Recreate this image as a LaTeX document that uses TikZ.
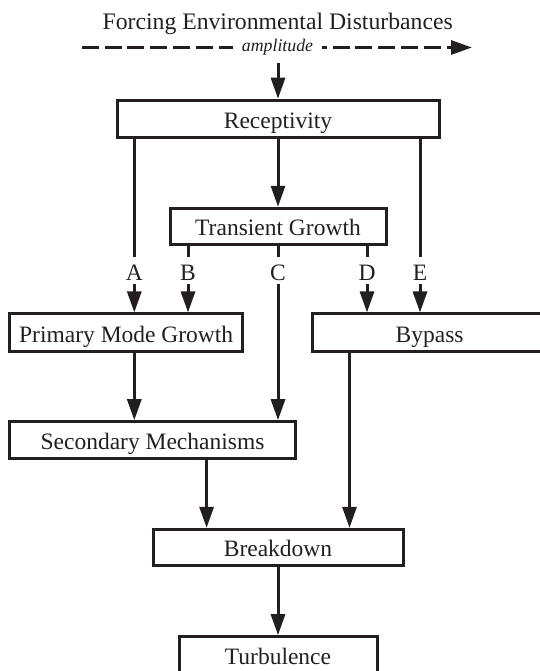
\documentclass[tikz,border=0pt]{standalone}
\usepackage{fontspec}
\setmainfont{Liberation Serif}
\usetikzlibrary{arrows.meta}
\definecolor{ink}{RGB}{35,31,32}
\begin{document}
\begin{tikzpicture}[x=1pt,y=-1pt,line width=3pt,draw=ink,text=ink,
  mainfont/.style={font=\fontsize{23.5}{26}\selectfont},
  box/.style={draw=ink,line width=3pt,inner sep=0pt,minimum height=37pt,
    text height=19pt,text depth=0pt,mainfont},
  lbl/.style={fill=white,inner xsep=1pt,inner ysep=3.3pt,text height=20.7pt,
    text depth=0pt,anchor=base,mainfont},
  arr/.style={draw=ink,line width=3pt,-{Triangle[length=21pt,width=14pt]}},
  dasharr/.style={draw=ink,line width=3pt,dash pattern=on 17pt off 5.8pt,
    -{Triangle[length=21pt,width=14pt]}}
]
\useasboundingbox (0,0) rectangle (540,671);
\clip (0,0) rectangle (540,671);

% top text and dashed arrow
\node[anchor=base,font=\fontsize{23.7}{26}\selectfont] (forcing) at (277.7,30) {Forcing Environmental Disturbances};
\coordinate (dstart) at (81.7,47.5);
\coordinate (dend) at (472,47.5);
\draw[dasharr] (dstart) -- (dend);
\node[anchor=base,fill=white,inner xsep=9pt,inner ysep=1pt,
  font=\itshape\fontsize{17.8}{20}\selectfont] (amp) at (277.5,51.5) {amplitude};

% boxes
\node[box,minimum width=322pt] (recep) at (278,118.7) {Receptivity};
\node[box,minimum width=216pt,minimum height=36pt] (trans) at (278,226.3) {Transient Growth};
\node[box,minimum width=233pt,minimum height=37.7pt] (prim) at (126.2,332.8) {Primary Mode Growth};
\node[box,minimum width=234pt,minimum height=37.7pt] (bypass) at (429.6,332.8) {Bypass};
\node[box,minimum width=286pt,minimum height=36.6pt] (sec) at (152.5,440) {Secondary Mechanisms};
\node[box,minimum width=250pt,minimum height=35.7pt] (brk) at (278,547.2) {Breakdown};
\node[box,minimum width=198pt] (turb) at (278,655.2) {Turbulence};

% connector columns
\coordinate (xA) at (134.3,0);
\coordinate (xB) at (188,0);
\coordinate (xC) at (278,0);
\coordinate (xD) at (367,0);
\coordinate (xE) at (420,0);
\coordinate (xS) at (206.6,0);
\coordinate (xY) at (349.5,0);

% connectors
\draw[arr] ([yshift=-5pt]recep.north |- amp.south) -- (recep.north);
\draw[arr] (recep.south) -- (trans.north);
\draw[arr] (recep.south -| xA) -- (prim.north -| xA);
\draw[arr] (trans.south -| xB) -- (prim.north -| xB);
\draw[arr] (trans.south -| xC) -- (sec.north -| xC);
\draw[arr] (trans.south -| xD) -- (bypass.north -| xD);
\draw[arr] (recep.south -| xE) -- (bypass.north -| xE);
\draw[arr] (prim.south -| xA) -- (sec.north -| xA);
\draw[arr] (sec.south -| xS) -- (brk.north -| xS);
\draw[arr] (bypass.south -| xY) -- (brk.north -| xY);
\draw[arr] (brk.south) -- (turb.north);

% path labels
\node[lbl] (la) at (134.3,280.7) {A};
\node[lbl] (lb) at (188,280.7) {B};
\node[lbl] (lc) at (278,280.7) {C};
\node[lbl] (ld) at (367,280.7) {D};
\node[lbl] (le) at (420,280.7) {E};
\end{tikzpicture}
\end{document}
